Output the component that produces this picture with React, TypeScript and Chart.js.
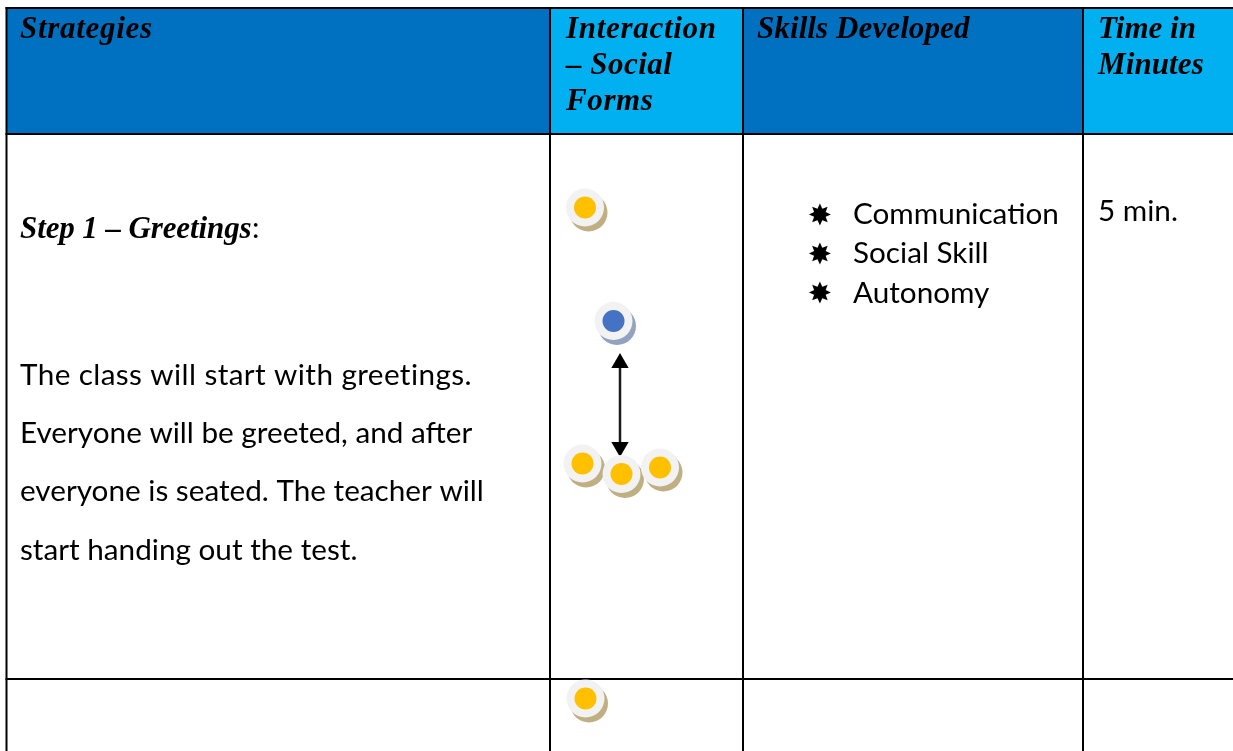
import React, { useEffect, useRef } from "react";
import { Chart, registerables } from "chart.js";

Chart.register(...registerables);

const columnEdges = [6.5, 550, 743, 1083, 1233];
const columnFills = ["#0070C0", "#00B0F0", "#0070C0", "#00B0F0"];
const headerRange = [8, 134];
const rowLines = [8, 134, 679];
const columnLines = [6.5, 550, 743, 1083];
const tableBottom = 751;
const tableRight = 1233;

const yellowDots = [
  { x: 585, y: 207.5 },
  { x: 582.5, y: 463.5 },
  { x: 621.5, y: 474 },
  { x: 660, y: 467.5 },
  { x: 585.5, y: 698.5 },
];
const blueDots = [{ x: 613.5, y: 321 }];
const arrowEnds = [
  { x: 620, y: 363 },
  { x: 620, y: 447 },
];

const SCRIPT = "italic 700 31px 'Liberation Serif'";
const BODY = "29.7px Lato";
const headerTexts = [
  { text: "Strategies", x: 20, y: 38, font: SCRIPT, spacing: "0.7px" },
  { text: "Interaction", x: 566, y: 38, font: SCRIPT, spacing: "0.7px" },
  { text: "– Social", x: 566, y: 74, font: SCRIPT, spacing: "0.5px" },
  { text: "Forms", x: 566, y: 110, font: SCRIPT, spacing: "0.6px" },
  { text: "Skills Developed", x: 757, y: 38, font: SCRIPT, spacing: "0.1px" },
  { text: "Time in", x: 1098, y: 38, font: SCRIPT, spacing: "0px" },
  { text: "Minutes", x: 1098, y: 74, font: SCRIPT, spacing: "0.1px" },
];
const bodyTexts = [
  { text: "Step 1 – Greetings", x: 20, y: 238, font: SCRIPT, spacing: "-0.1px" },
  { text: ":", x: 252, y: 238, font: BODY, spacing: "0px" },
  { text: "The class will start with greetings.", x: 20, y: 385, font: BODY, spacing: "0.4px" },
  { text: "Everyone will be greeted, and after", x: 20, y: 443, font: BODY, spacing: "0px" },
  { text: "everyone is seated. The teacher will", x: 20, y: 501, font: BODY, spacing: "0px" },
  { text: "start handing out the test.", x: 20, y: 560, font: BODY, spacing: "0px" },
  { text: "Communication", x: 853, y: 224, font: BODY, spacing: "0px" },
  { text: "Social Skill", x: 853, y: 263, font: BODY, spacing: "0px" },
  { text: "Autonomy", x: 853, y: 303, font: BODY, spacing: "0px" },
  { text: "5 min.", x: 1098, y: 221, font: BODY, spacing: "0px" },
];
const bulletGlyph = "✸";
const bulletPlaces = [
  { x: 820, y: 224.5 },
  { x: 820, y: 263.5 },
  { x: 820, y: 302.5 },
];

const textPlugin = {
  id: "tableText",
  afterDatasetsDraw(chart: any) {
    const { ctx, scales } = chart;
    ctx.save();
    ctx.fillStyle = "#000000";
    ctx.textBaseline = "alphabetic";
    ctx.textAlign = "left";
    [...headerTexts, ...bodyTexts].forEach((t) => {
      ctx.font = t.font;
      ctx.letterSpacing = t.spacing;
      ctx.fillText(t.text, scales.x.getPixelForValue(t.x), scales.y.getPixelForValue(t.y));
    });
    ctx.letterSpacing = "0px";
    ctx.font = "29px 'DejaVu Sans'";
    ctx.textAlign = "center";
    bulletPlaces.forEach((b) => {
      ctx.fillText(bulletGlyph, scales.x.getPixelForValue(b.x), scales.y.getPixelForValue(b.y));
    });
    ctx.restore();
  },
};

const shifted = (pts: { x: number; y: number }[], dx: number, dy: number) =>
  pts.map((p) => ({ x: p.x + dx, y: p.y + dy }));

export default function App() {
  const ref = useRef<HTMLCanvasElement>(null);
  useEffect(() => {
    if (!ref.current) return;
    const bars = columnFills.map((fill, i) => ({
      type: "bar" as const,
      data: [{ x: (columnEdges[i] + columnEdges[i + 1]) / 2, y: headerRange }],
      backgroundColor: fill,
      borderWidth: 0,
      barThickness: columnEdges[i + 1] - columnEdges[i],
      grouped: false,
      order: 10,
    }));
    const line = (data: { x: number; y: number }[]) => ({
      type: "scatter" as const,
      data,
      showLine: true,
      borderColor: "#000000",
      borderWidth: 2,
      pointRadius: 0,
      order: 9,
    });
    const gridH = rowLines.map((y) =>
      line([
        { x: columnEdges[0] - 1, y },
        { x: tableRight, y },
      ])
    );
    const gridV = columnLines.map((x) =>
      line([
        { x, y: headerRange[0] - 1 },
        { x, y: tableBottom },
      ])
    );
    const dots = (
      data: { x: number; y: number }[],
      radius: number,
      color: string,
      order: number
    ) => ({
      type: "scatter" as const,
      data,
      pointRadius: radius,
      pointBackgroundColor: color,
      pointBorderWidth: 0,
      showLine: false,
      order,
    });
    const arrow = {
      type: "scatter" as const,
      data: arrowEnds,
      showLine: true,
      borderColor: "#1a1a1a",
      borderWidth: 2.5,
      pointStyle: "triangle",
      pointRadius: 10,
      pointRotation: [0, 180],
      pointBackgroundColor: "#000000",
      pointBorderWidth: 0,
      order: 8,
    };
    const chart = new Chart(ref.current, {
      type: "scatter",
      data: {
        datasets: [
          ...bars,
          ...gridH,
          ...gridV,
          arrow,
          dots(shifted(yellowDots, 3.5, 5), 19, "#BFAF83", 7),
          dots(shifted(blueDots, 3.5, 5), 19, "#93A3BF", 7),
          dots(yellowDots, 19, "#F2F2F2", 6),
          dots(blueDots, 19, "#F2F2F2", 6),
          dots(yellowDots, 11, "#FFC000", 5),
          dots(blueDots, 11, "#4472C4", 5),
        ] as any,
      },
      options: {
        animation: false,
        responsive: false,
        events: [],
        layout: { padding: 0, autoPadding: false },
        plugins: { legend: { display: false }, tooltip: { enabled: false }, title: { display: false } },
        scales: {
          x: { type: "linear", min: 0, max: 1233, display: false, offset: false },
          y: { type: "linear", min: 0, max: 751, reverse: true, display: false, offset: false },
        },
      },
      plugins: [textPlugin],
    });
    return () => chart.destroy();
  }, []);
  return (
    <canvas
      ref={ref}
      width={1233}
      height={751}
      style={{ position: "fixed", left: 0, top: 0, display: "block", background: "#fff" }}
    />
  );
}
